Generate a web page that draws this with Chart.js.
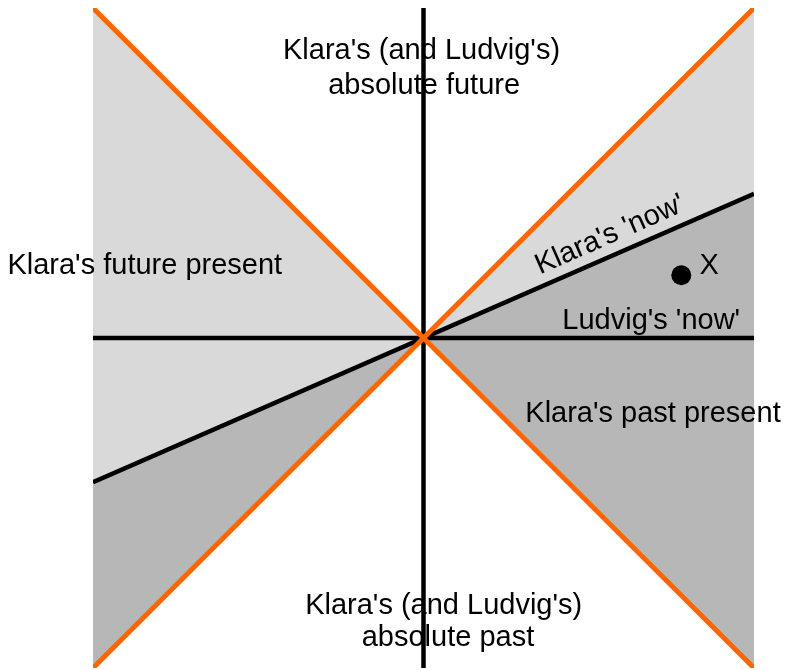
<!DOCTYPE html>
<html>
<head>
<meta charset="utf-8">
<script src="https://cdn.jsdelivr.net/npm/chart.js@4.4.1/dist/chart.umd.min.js"></script>
<style>
    body { margin: 0; background: #ffffff; }
    #wrap { width: 786px; height: 670px; }
</style>
</head>
<body>
<div id="wrap"><canvas id="cone" width="786" height="670"></canvas></div>
<script>
    // light cone edges, |x| and -|x|
    var edgeX = [-1, 0, 1];
    var futureEdge = [1, 0, 1];
    var pastEdge = [-1, 0, -1];

    // Klara's 'now' line (tilted) and Ludvig's 'now' (flat)
    var nowX = [-1, 1];
    var klaraNow = [-0.437, 0.437];
    var ludvigNow = [0, 0];

    // event X
    var eventX = [0.78];
    var eventY = [0.19];

    // text labels, in data units
    var labelTexts = ["Klara's (and Ludvig's)", "absolute future", "Klara's future present", "Klara's 'now'",
        "Ludvig's 'now'", "Klara's past present", "Klara's (and Ludvig's)", "absolute past", "X"];
    var labelX = [-0.006, 0.002, -1.259, 0.574, 0.42, 0.308, 0.061, 0.074, 0.835];
    var labelY = [0.845, 0.739, 0.194, 0.29, 0.027, -0.255, -0.836, -0.933, 0.194];
    var labelAlign = ['center', 'center', 'left', 'center', 'left', 'left', 'center', 'center', 'left'];
    var labelAngle = [0, 0, 0, -23.7, 0, 0, 0, 0, 0];

    function pts(xs, ys) {
        return xs.map(function(x, i) { return { x: x, y: ys[i] }; });
    }

    var labelPlugin = {
        id: 'labels',
        afterDatasetsDraw: function(chart) {
            var ctx = chart.ctx;
            var sx = chart.scales.x, sy = chart.scales.y;
            ctx.save();
            ctx.font = "29px 'Liberation Sans', Arial, sans-serif";
            ctx.fillStyle = '#000000';
            ctx.textBaseline = 'alphabetic';
            for (var i = 0; i < labelTexts.length; i++) {
                ctx.save();
                ctx.translate(sx.getPixelForValue(labelX[i]), sy.getPixelForValue(labelY[i]));
                ctx.rotate(labelAngle[i] * Math.PI / 180);
                ctx.textAlign = labelAlign[i];
                ctx.fillText(labelTexts[i], 0, 0);
                ctx.restore();
            }
            ctx.restore();
        }
    };

    var chart = new Chart(document.getElementById('cone').getContext('2d'), {
        type: 'scatter',
        data: {
            datasets: [
                // orange light cone, drawn on top
                { data: pts([-1, 1], [-1, 1]), showLine: true, borderColor: '#ff6600', borderWidth: 5, pointRadius: 0, order: 0 },
                { data: pts([-1, 1], [1, -1]), showLine: true, borderColor: '#ff6600', borderWidth: 5, pointRadius: 0, order: 0 },
                // axes and Klara's now
                { data: pts([0, 0], [-1, 1]), showLine: true, borderColor: '#000000', borderWidth: 4.5, pointRadius: 0, order: 1 },
                { data: pts(nowX, ludvigNow), showLine: true, borderColor: '#000000', borderWidth: 4.5, pointRadius: 0, order: 1 },
                { data: pts(nowX, klaraNow), showLine: true, borderColor: '#000000', borderWidth: 4.5, pointRadius: 0, order: 1 },
                { data: pts(eventX, eventY), pointRadius: 10, pointBackgroundColor: '#000000', pointBorderWidth: 0, order: 1 },
                // filled wedges
                { data: pts(edgeX, futureEdge), showLine: true, borderWidth: 0, pointRadius: 0, fill: '+1', backgroundColor: '#d9d9d9', order: 2 },
                { data: pts(nowX, klaraNow), showLine: true, borderWidth: 0, pointRadius: 0, fill: '+1', backgroundColor: '#b7b7b7', order: 2 },
                { data: pts(edgeX, pastEdge), showLine: true, borderWidth: 0, pointRadius: 0, fill: false, order: 2 }
            ]
        },
        options: {
            responsive: false,
            animation: false,
            layout: { autoPadding: false, padding: { left: 93, right: 32, top: 8, bottom: 2 } },
            scales: {
                x: { type: 'linear', min: -1, max: 1, display: false },
                y: { type: 'linear', min: -1, max: 1, display: false }
            },
            plugins: {
                legend: { display: false },
                tooltip: { enabled: false },
                filler: { drawTime: 'beforeDatasetsDraw' }
            }
        },
        plugins: [labelPlugin]
    });
</script>
</body>
</html>
